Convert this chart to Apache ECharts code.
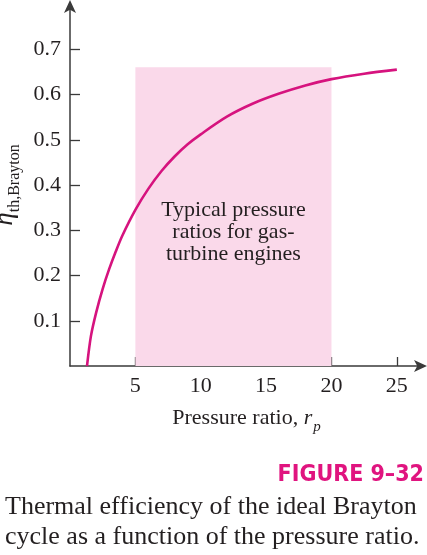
<!DOCTYPE html>
<html>
<head>
<meta charset="utf-8">
<script src="https://cdn.jsdelivr.net/npm/echarts@6/dist/echarts.min.js"></script>
<style>
html,body{margin:0;padding:0;background:#fff;}
#chart{width:427px;height:555px;}
</style>
</head>
<body>
<div id="chart"></div>
<script>
// ---- data ----
const pressureRatio = [1.3, 1.6, 2, 2.5, 3, 3.5, 4, 5, 6, 7, 8, 9, 10, 12, 14, 16, 18, 20, 22.5, 25];
const efficiency    = [0, 0.066, 0.118, 0.1705, 0.2145, 0.253, 0.288, 0.345, 0.392, 0.431, 0.463, 0.49, 0.512, 0.551, 0.58, 0.602, 0.62, 0.634, 0.646, 0.655];
const xTickValues = [5, 10, 15, 20, 25];
const yTickValues = [0.1, 0.2, 0.3, 0.4, 0.5, 0.6, 0.7];
const typicalRange = [5, 20];
const typicalTop = 0.66;
const typicalText = 'Typical pressure\nratios for gas-\nturbine engines';
const figureLabel = 'FIGURE 9–32';
const captionLines = ['Thermal efficiency of the ideal Brayton', 'cycle as a function of the pressure ratio.'];

const serif = '"Liberation Serif", "DejaVu Serif", serif';
const axisColor = '#3a3a3a';
const textColor = '#231f20';
const curveColor = '#d6137e';

const chart = echarts.init(document.getElementById('chart'));
chart.setOption({
  animation: false,
  grid: { left: 70, right: 4, top: 4, bottom: 189, containLabel: false, outerBoundsMode: 'none' },
  xAxis: {
    type: 'value', min: 0, max: 27,
    splitLine: { show: false },
    axisLine: { lineStyle: { color: axisColor, width: 1.5 }, symbol: ['none', 'arrow'], symbolSize: [9, 13], symbolOffset: [0, 4] },
    axisTick: { inside: true, length: 9, lineStyle: { color: axisColor, width: 1.3 }, customValues: xTickValues },
    axisLabel: { customValues: xTickValues, color: textColor, fontFamily: serif, fontSize: 22, margin: 9 },
    name: '{n|Pressure ratio, }{r|r}{p|p}',
    nameLocation: 'middle', nameGap: 39,
    nameTextStyle: {
      rich: {
        n: { fontFamily: serif, fontSize: 22, color: textColor, verticalAlign: 'bottom', lineHeight: 24 },
        r: { fontFamily: serif, fontSize: 22, fontStyle: 'italic', color: textColor, verticalAlign: 'bottom', lineHeight: 24 },
        p: { fontFamily: serif, fontSize: 15, fontStyle: 'italic', color: textColor, verticalAlign: 'bottom', lineHeight: 15, padding: [0, 0, -6, 1] }
      }
    }
  },
  yAxis: {
    type: 'value', min: 0, max: 0.8,
    splitLine: { show: false },
    axisLine: { lineStyle: { color: axisColor, width: 1.5 }, symbol: ['none', 'arrow'], symbolSize: [9, 13], symbolOffset: [0, 4] },
    axisTick: { inside: true, length: 10, lineStyle: { color: axisColor, width: 1.3 }, customValues: yTickValues },
    axisLabel: { customValues: yTickValues, color: textColor, fontFamily: serif, fontSize: 22, margin: 9, formatter: v => v.toFixed(1) },
    name: '{e|η}{s|th,Brayton}',
    nameLocation: 'middle', nameGap: 45, nameRotate: 90,
    nameTextStyle: {
      rich: {
        e: { fontFamily: serif, fontSize: 27, fontStyle: 'italic', color: textColor, verticalAlign: 'bottom', lineHeight: 26 },
        s: { fontFamily: serif, fontSize: 16, color: textColor, verticalAlign: 'bottom', lineHeight: 16, padding: [0, 0, -4, 0] }
      }
    }
  },
  series: [{
    type: 'line',
    data: pressureRatio.map((x, i) => [x, efficiency[i]]),
    smooth: 0.3,
    showSymbol: false,
    lineStyle: { color: curveColor, width: 2.6 },
    z: 3,
    markArea: {
      silent: true,
      itemStyle: { color: '#fad9ea' },
      label: {
        show: true, position: 'inside', offset: [0, 16],
        formatter: typicalText,
        fontFamily: serif, fontSize: 22, lineHeight: 22, color: textColor, align: 'center'
      },
      data: [[{ coord: [typicalRange[0], 0] }, { coord: [typicalRange[1], typicalTop] }]]
    }
  }],
  graphic: [
    { type: 'text', right: 3, top: 464, style: { text: figureLabel, fontFamily: '"DejaVu Sans Condensed", "DejaVu Sans", sans-serif', fontWeight: 'bold', fontSize: 23, fill: '#e0147f' } },
    { type: 'text', left: 5, top: 494, style: { text: captionLines[0], fontFamily: serif, fontSize: 26, fill: textColor } },
    { type: 'text', left: 5, top: 524, style: { text: captionLines[1], fontFamily: serif, fontSize: 26, fill: textColor } }
  ]
});
</script>
</body>
</html>
